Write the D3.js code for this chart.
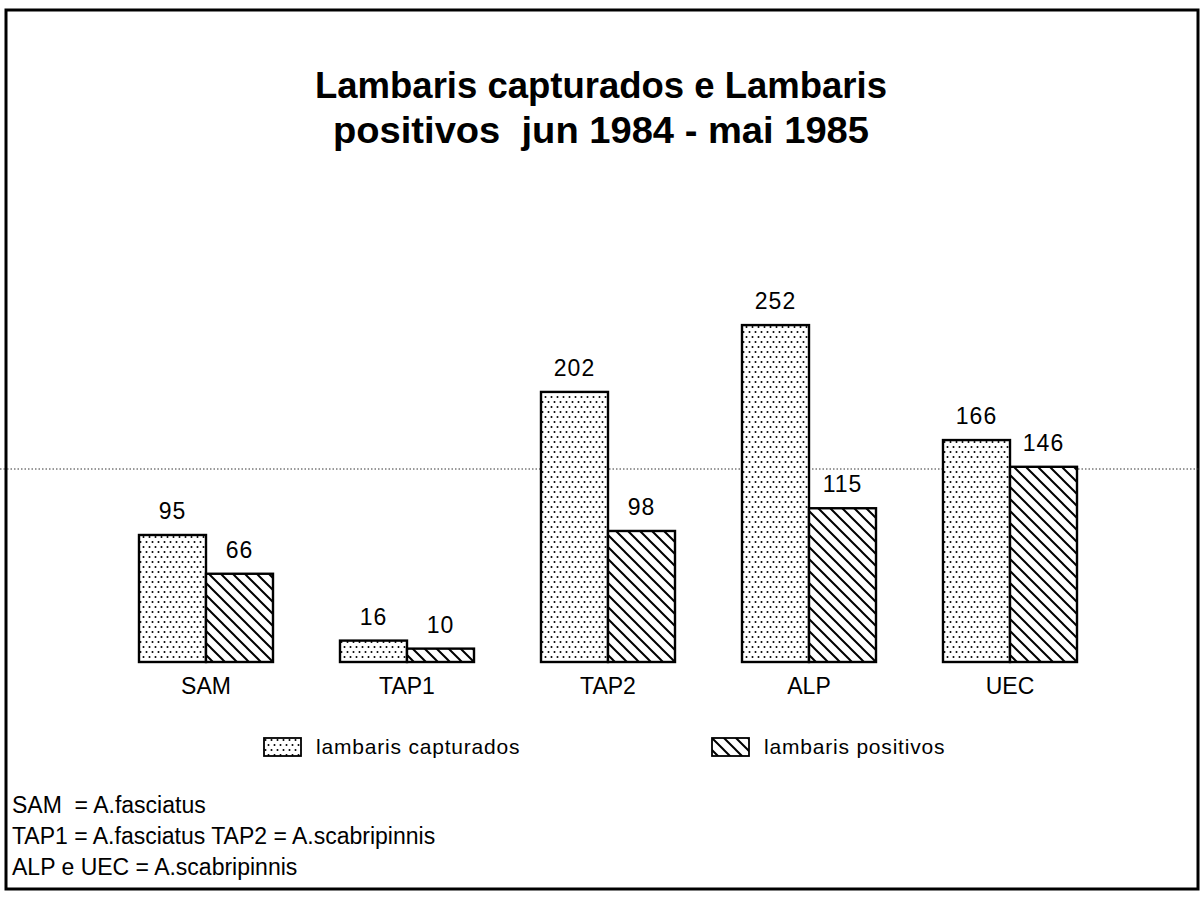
<!DOCTYPE html>
<html>
<head>
<meta charset="utf-8">
<script src="https://cdn.jsdelivr.net/npm/d3@7"></script>
<style>
  html, body { margin: 0; padding: 0; background: #fff; }
  svg { display: block; }
  text { font-family: "Liberation Sans", Arial, Helvetica, sans-serif; fill: #000; white-space: pre; }
</style>
</head>
<body>
<svg id="chart" width="1202" height="897"></svg>
<script>
// ---- data ----
const categories = ["SAM", "TAP1", "TAP2", "ALP", "UEC"];
const seriesNames = ["lambaris capturados", "lambaris positivos"];
const capturados = [95, 16, 202, 252, 166];
const positivos = [66, 10, 98, 115, 146];
const titleLines = ["Lambaris capturados e Lambaris", "positivos  jun 1984 - mai 1985"];
const footnotes = [
  "SAM  = A.fasciatus",
  "TAP1 = A.fasciatus TAP2 = A.scabripinnis",
  "ALP e UEC = A.scabripinnis"
];

const svg = d3.select("#chart");
const W = 1202, H = 897;

// ---- patterns ----
const defs = svg.append("defs");
const dots = defs.append("pattern")
  .attr("id", "dots").attr("patternUnits", "userSpaceOnUse")
  .attr("width", 6).attr("height", 10);
dots.append("rect").attr("width", 6).attr("height", 10).attr("fill", "#fff");
dots.append("circle").attr("cx", 1.5).attr("cy", 2).attr("r", 1.0).attr("fill", "#000");
dots.append("circle").attr("cx", 4.5).attr("cy", 7).attr("r", 1.0).attr("fill", "#000");

const hatch = defs.append("pattern")
  .attr("id", "hatch").attr("patternUnits", "userSpaceOnUse")
  .attr("width", 12).attr("height", 12);
hatch.append("rect").attr("width", 12).attr("height", 12).attr("fill", "#fff");
hatch.append("path")
  .attr("d", "M-3,-3 L15,15 M-3,9 L3,15 M9,-3 L15,3")
  .attr("stroke", "#000").attr("stroke-width", 2).attr("fill", "none");

const fills = ["url(#dots)", "url(#hatch)"];

// ---- border ----
svg.append("rect")
  .attr("x", 6).attr("y", 10).attr("width", 1192).attr("height", 879)
  .attr("fill", "none").attr("stroke", "#000").attr("stroke-width", 3);

// ---- title ----
const titleWidths = [572, 536];
svg.append("g").selectAll("text").data(titleLines).join("text")
  .attr("x", W / 2).attr("y", (d, i) => 98 + i * 45)
  .attr("text-anchor", "middle")
  .attr("font-size", 37).attr("font-weight", "bold")
  .attr("textLength", (d, i) => titleWidths[i])
  .attr("lengthAdjust", "spacingAndGlyphs")
  .text(d => d);

// ---- scales ----
const x0 = d3.scaleBand().domain(categories)
  .range([105.5, 1110.5]).paddingInner(1 / 3).paddingOuter(1 / 6);
const x1 = d3.scaleBand().domain(seriesNames).range([0, x0.bandwidth()]);
const baseY = 662;
const y = d3.scaleLinear().domain([0, 300]).range([baseY, baseY - 300 * 1.337]);

const rows = categories.map((c, i) => ({
  cat: c,
  vals: [{ s: 0, v: capturados[i] }, { s: 1, v: positivos[i] }]
}));

// ---- scan fold line ----
svg.append("line")
  .attr("x1", 0).attr("x2", 1199).attr("y1", 469).attr("y2", 469)
  .attr("stroke", "#333").attr("stroke-width", 1).attr("stroke-dasharray", "1.5,2");

const groups = svg.append("g").selectAll("g").data(rows).join("g")
  .attr("transform", d => `translate(${x0(d.cat)},0)`);

groups.selectAll("rect").data(d => d.vals).join("rect")
  .attr("x", d => x1(seriesNames[d.s]))
  .attr("y", d => y(d.v))
  .attr("width", x1.bandwidth())
  .attr("height", d => y(0) - y(d.v))
  .attr("fill", d => fills[d.s])
  .attr("stroke", "#000").attr("stroke-width", 2.4);

groups.selectAll("text.val").data(d => d.vals).join("text")
  .attr("class", "val")
  .attr("x", d => x1(seriesNames[d.s]) + x1.bandwidth() / 2)
  .attr("y", d => y(d.v) - 16)
  .attr("text-anchor", "middle")
  .attr("font-size", 23).attr("letter-spacing", 1)
  .text(d => d.v);

// category axis labels
const xAxis = d3.axisBottom(x0).tickSize(0).tickPadding(0);
const ax = svg.append("g").attr("transform", `translate(0,${baseY})`).call(xAxis);
ax.select(".domain").remove();
ax.selectAll("text")
  .attr("dy", 0).attr("y", 32)
  .attr("font-size", 23)
  .attr("font-family", "Liberation Sans, Arial, sans-serif")
  .attr("fill", "#000");

// ---- legend ----
const legendX = [264, 712];
const legend = svg.append("g").selectAll("g").data(seriesNames).join("g")
  .attr("transform", (d, i) => `translate(${legendX[i]},738)`);
legend.append("rect")
  .attr("width", 37).attr("height", 18)
  .attr("fill", (d, i) => fills[i])
  .attr("stroke", "#000").attr("stroke-width", 1.8);
legend.append("text")
  .attr("x", 52).attr("y", 16)
  .attr("font-size", 21).attr("letter-spacing", 0.8)
  .text(d => d);

// ---- footnotes ----
svg.append("g").selectAll("text").data(footnotes).join("text")
  .attr("x", 12).attr("y", (d, i) => 813 + i * 31)
  .attr("font-size", 23)
  .text(d => d);
</script>
</body>
</html>
